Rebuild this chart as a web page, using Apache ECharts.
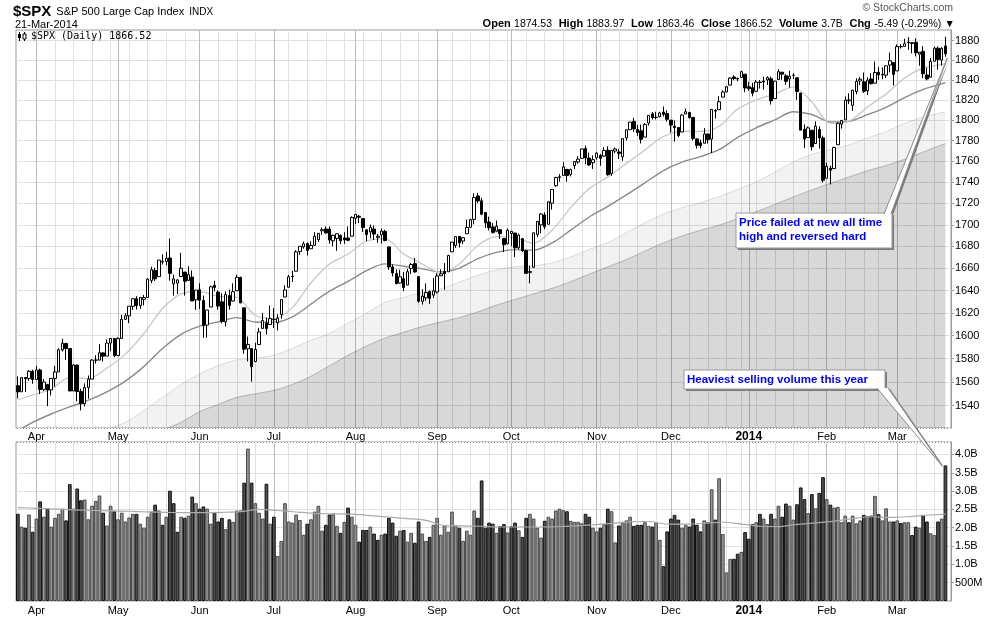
<!DOCTYPE html>
<html><head><meta charset="utf-8">
<script src="https://cdn.jsdelivr.net/npm/echarts@6/dist/echarts.min.js"></script>
<style>html,body{margin:0;padding:0;background:#fff}#c{width:1000px;height:618px}</style>
</head><body><div id="c"></div>
<script>
// ---- DATA ----
const holidays = ['2013-05-27','2013-07-04','2013-09-02','2013-11-28','2013-12-25','2014-01-01','2014-01-20','2014-02-17'];
const opens = [
1556.9,1551.7,1563.8,1562.9,1569.2,1562.2,1570.3,1553.7,1558.0,1553.3,
1563.1,1568.6,1587.7,1593.3,1588.8,1552.4,1574.6,1552.0,1541.6,1555.3,
1562.5,1578.8,1578.8,1585.0,1582.3,1593.6,1597.6,1582.8,1597.6,1614.4,
1617.5,1625.9,1632.7,1626.7,1632.1,1633.8,1649.1,1658.1,1652.5,1665.7,
1666.2,1669.4,1646.1,1646.7,1652.6,1656.6,1649.1,1652.1,1631.7,1640.7,
1631.1,1609.3,1625.3,1644.7,1638.6,1629.9,1612.2,1635.5,1630.6,1639.8,
1651.8,1624.6,1588.6,1588.8,1577.5,1592.3,1606.4,1611.1,1609.8,1614.3,
1611.5,1618.7,1634.2,1642.9,1652.9,1657.4,1675.3,1679.6,1682.7,1677.9,
1681.0,1686.2,1694.4,1696.1,1696.1,1685.2,1687.3,1690.3,1687.9,1687.8,
1689.4,1706.1,1708.0,1705.8,1695.3,1693.4,1696.1,1688.4,1690.7,1693.9,
1679.6,1661.2,1655.3,1646.8,1650.7,1645.0,1659.9,1664.3,1652.5,1630.3,
1633.5,1638.9,1635.9,1638.7,1653.3,1657.4,1656.9,1675.1,1681.0,1689.2,
1685.0,1691.7,1697.7,1705.0,1727.0,1722.4,1711.4,1702.6,1698.0,1694.1,
1695.5,1687.3,1682.4,1691.9,1692.4,1678.8,1687.2,1676.2,1657.0,1660.9,
1691.1,1699.9,1709.2,1700.5,1720.2,1736.7,1745.2,1746.5,1752.3,1747.5,
1756.0,1759.4,1762.9,1772.3,1763.2,1758.7,1763.4,1765.7,1765.0,1770.7,
1748.4,1769.9,1769.0,1764.4,1782.8,1790.7,1798.8,1790.8,1789.6,1783.5,
1797.2,1806.3,1802.9,1803.5,1808.0,1806.6,1800.1,1794.0,1792.8,1788.4,
1806.2,1807.6,1802.8,1781.7,1777.9,1777.5,1786.5,1781.5,1809.0,1810.4,
1822.9,1828.0,1834.9,1843.0,1841.5,1842.6,1845.9,1833.2,1832.3,1828.7,
1837.9,1839.0,1840.1,1841.3,1821.4,1840.5,1847.9,1844.2,1841.1,1844.7,
1842.3,1827.0,1791.0,1783.0,1790.2,1777.2,1790.9,1782.7,1743.8,1753.4,
1753.0,1776.0,1796.2,1800.4,1820.1,1814.8,1828.5,1839.0,1838.2,1829.2,
1841.1,1836.8,1847.7,1845.8,1844.9,1855.1,1857.7,1849.2,1874.1,1874.2,
1878.5,1877.9,1878.3,1866.2,1869.1,1845.1,1842.8,1858.9,1872.3,1860.1,
1874.5];
const highs = [
1564.9,1563.9,1564.1,1570.3,1570.6,1573.7,1571.5,1562.6,1558.0,1563.1,
1573.9,1589.1,1597.4,1593.3,1588.8,1575.4,1574.6,1554.4,1558.8,1565.6,
1579.6,1583.0,1592.6,1585.8,1596.7,1597.6,1597.6,1598.6,1618.5,1619.8,
1626.0,1632.8,1635.0,1633.7,1636.0,1651.1,1661.5,1660.5,1667.5,1672.8,
1674.9,1687.2,1654.4,1649.8,1674.2,1656.6,1661.9,1658.1,1640.4,1646.5,
1635.5,1622.6,1644.4,1648.7,1640.1,1637.7,1639.3,1640.8,1646.5,1654.2,
1652.5,1624.6,1599.2,1588.8,1593.8,1606.8,1620.1,1615.9,1626.6,1624.3,
1618.9,1632.1,1644.7,1654.2,1657.9,1676.6,1680.2,1684.5,1683.7,1684.8,
1693.1,1692.1,1697.6,1698.4,1698.4,1690.9,1691.9,1690.9,1693.2,1698.4,
1707.9,1709.7,1709.2,1705.8,1695.3,1700.2,1699.4,1691.5,1696.8,1695.5,
1679.6,1663.6,1659.2,1658.9,1656.9,1659.6,1664.9,1669.5,1652.5,1641.2,
1646.4,1640.1,1651.3,1655.7,1659.2,1664.8,1672.4,1684.1,1689.1,1689.2,
1688.7,1704.9,1705.5,1729.4,1729.9,1725.2,1711.4,1707.6,1701.7,1703.9,
1695.5,1687.3,1696.6,1693.9,1692.4,1691.9,1687.2,1676.8,1662.5,1692.6,
1703.4,1711.0,1711.6,1721.8,1733.4,1745.3,1747.8,1759.3,1752.3,1753.0,
1759.8,1764.9,1772.1,1775.2,1768.5,1765.7,1768.8,1767.0,1773.7,1774.5,
1770.8,1773.4,1771.8,1782.0,1791.0,1798.2,1802.3,1795.5,1795.7,1797.2,
1804.8,1808.1,1808.4,1808.3,1813.6,1810.0,1800.1,1799.8,1792.8,1806.0,
1811.5,1808.5,1803.0,1782.0,1780.9,1792.2,1786.8,1811.1,1810.9,1823.8,
1829.8,1833.9,1842.8,1844.9,1842.5,1849.4,1846.0,1838.2,1837.2,1840.1,
1840.0,1843.2,1843.8,1843.5,1839.3,1850.8,1847.9,1846.0,1849.3,1846.9,
1842.3,1827.0,1795.9,1793.9,1790.2,1798.8,1793.9,1784.8,1758.7,1755.8,
1774.1,1798.0,1799.9,1823.5,1826.6,1830.3,1841.7,1842.9,1847.5,1842.8,
1846.9,1858.7,1852.9,1852.7,1854.5,1867.9,1857.7,1876.2,1876.5,1881.9,
1883.6,1877.9,1882.4,1868.4,1874.4,1852.4,1862.3,1873.8,1874.1,1873.5,
1884.0];
const lows = [
1546.2,1551.7,1551.5,1561.1,1558.5,1562.2,1549.8,1552.5,1539.5,1548.6,
1556.0,1568.6,1586.2,1579.0,1552.3,1552.4,1543.7,1536.0,1539.3,1545.8,
1562.5,1575.8,1578.8,1577.6,1582.3,1586.5,1581.3,1582.8,1597.6,1614.2,
1611.0,1622.7,1623.1,1623.7,1626.7,1633.8,1646.7,1648.6,1652.5,1663.5,
1662.7,1648.9,1635.5,1636.9,1652.6,1635.5,1648.6,1630.7,1622.7,1623.6,
1598.2,1598.2,1625.3,1639.3,1622.9,1610.9,1608.1,1623.0,1630.3,1639.8,
1628.9,1584.3,1577.7,1560.3,1577.1,1592.3,1606.4,1601.1,1609.8,1606.8,
1604.6,1615.0,1634.2,1642.9,1647.7,1657.4,1672.3,1677.9,1671.8,1677.9,
1681.0,1684.1,1690.7,1692.1,1682.6,1680.2,1676.0,1681.9,1682.4,1684.9,
1689.4,1700.7,1701.6,1693.3,1684.9,1687.4,1686.0,1683.4,1682.6,1684.8,
1658.6,1652.6,1645.8,1646.1,1639.4,1645.0,1654.8,1656.0,1629.1,1627.5,
1630.9,1628.1,1633.4,1637.4,1653.1,1640.6,1656.9,1675.1,1678.7,1679.1,
1682.2,1691.7,1697.7,1700.4,1720.2,1708.9,1697.1,1694.9,1691.9,1693.1,
1687.1,1674.9,1682.1,1680.3,1670.4,1677.3,1674.9,1655.0,1646.5,1660.9,
1688.5,1692.1,1695.9,1700.5,1714.1,1735.7,1740.6,1746.5,1740.5,1745.5,
1752.5,1757.7,1762.9,1757.2,1755.7,1752.7,1761.6,1755.8,1764.4,1746.2,
1746.1,1767.9,1762.3,1760.6,1780.2,1790.7,1788.4,1784.7,1777.2,1783.5,
1794.7,1800.6,1800.8,1802.6,1803.6,1798.6,1787.9,1779.1,1783.4,1788.4,
1806.2,1801.4,1780.1,1772.3,1772.5,1777.5,1777.2,1768.0,1801.7,1810.4,
1822.9,1828.0,1834.9,1839.8,1838.8,1842.4,1827.7,1829.1,1823.7,1828.7,
1831.4,1830.4,1835.0,1815.5,1821.4,1840.5,1840.3,1835.2,1832.4,1840.9,
1820.1,1790.3,1772.9,1783.0,1770.5,1777.2,1772.3,1739.7,1743.8,1737.9,
1753.0,1776.0,1791.8,1800.4,1815.9,1809.2,1825.6,1835.0,1827.0,1824.9,
1835.6,1836.8,1840.2,1840.7,1842.0,1847.7,1834.4,1849.2,1871.9,1874.2,
1870.6,1867.0,1863.9,1854.4,1841.9,1839.6,1842.8,1858.9,1850.4,1854.6,
1863.5];
const closes = [
1551.7,1563.8,1562.9,1569.2,1562.2,1570.3,1553.7,1560.0,1553.3,1563.1,
1568.6,1587.7,1593.4,1588.9,1552.4,1574.6,1552.0,1541.6,1555.3,1562.5,
1578.8,1578.8,1585.2,1582.2,1593.6,1597.6,1582.7,1597.6,1614.4,1617.5,
1626.0,1632.7,1626.7,1633.7,1633.8,1650.3,1658.8,1650.5,1667.5,1666.3,
1669.2,1655.4,1650.5,1649.6,1660.1,1648.4,1654.4,1630.7,1640.4,1631.4,
1608.9,1622.6,1643.4,1642.8,1626.1,1612.5,1636.4,1626.7,1639.0,1651.8,
1628.9,1588.2,1592.4,1573.1,1588.0,1603.3,1613.2,1606.3,1615.0,1614.1,
1615.4,1631.9,1640.5,1652.3,1652.6,1675.0,1680.2,1682.5,1676.3,1680.9,
1689.4,1692.1,1695.5,1692.4,1685.9,1690.3,1691.7,1685.3,1686.0,1685.7,
1706.9,1709.7,1707.1,1697.4,1690.9,1697.5,1691.4,1689.5,1694.2,1685.4,
1661.3,1655.8,1646.1,1652.4,1642.8,1657.0,1663.5,1656.8,1630.5,1635.0,
1638.2,1633.0,1639.8,1653.1,1655.1,1655.2,1671.7,1684.0,1689.1,1683.4,
1688.0,1697.6,1704.8,1725.5,1722.3,1709.9,1701.8,1697.4,1692.8,1698.7,
1691.8,1681.6,1695.0,1693.9,1678.7,1690.5,1676.1,1655.5,1656.4,1692.6,
1703.2,1710.1,1698.1,1721.5,1733.2,1744.5,1744.7,1754.7,1746.4,1752.1,
1759.8,1762.1,1772.0,1763.3,1756.5,1761.6,1767.9,1763.0,1770.5,1747.2,
1770.6,1771.9,1767.7,1782.0,1790.6,1798.2,1791.5,1787.9,1781.4,1795.9,
1804.8,1802.5,1802.8,1807.2,1805.8,1800.9,1795.2,1792.8,1785.0,1805.1,
1808.4,1802.6,1782.2,1775.5,1775.3,1786.5,1781.0,1810.7,1809.6,1818.3,
1828.0,1833.3,1842.0,1841.4,1841.1,1848.4,1832.0,1831.4,1826.8,1837.9,
1837.5,1838.1,1842.4,1819.2,1838.9,1848.4,1845.9,1838.7,1843.8,1844.9,
1828.5,1790.3,1781.6,1792.5,1774.2,1794.2,1782.6,1741.9,1755.2,1751.6,
1773.4,1797.0,1799.8,1819.8,1819.3,1829.8,1838.6,1840.8,1828.8,1839.8,
1836.3,1847.6,1845.1,1845.2,1854.3,1859.5,1845.7,1873.9,1873.8,1877.0,
1878.0,1877.2,1867.6,1868.2,1846.3,1841.1,1858.8,1872.3,1860.8,1872.0,
1866.5];
// volume in billions of shares
const volumes = [
2.38,2.03,2.00,2.36,1.89,2.25,2.72,2.30,2.52,2.03,2.27,2.38,2.52,2.20,3.19,2.52,3.07,2.75,2.77,2.23,2.60,2.73,2.88,2.41,2.06,2.60,
2.45,2.23,2.41,2.17,2.28,2.38,2.38,2.11,2.00,2.30,2.44,2.63,2.47,2.08,2.30,3.01,2.67,1.89,2.30,2.27,2.33,2.85,
2.67,2.52,2.58,2.52,2.11,2.42,2.17,2.27,1.96,2.23,2.16,2.47,2.47,3.23,4.16,3.23,2.67,2.41,2.25,3.20,
2.11,2.30,1.23,1.64,2.67,2.17,2.14,2.36,2.21,1.81,2.11,2.23,2.44,2.60,1.92,2.08,2.36,2.38,2.05,1.86,2.16,2.55,
2.30,2.08,1.62,1.94,1.94,2.03,1.84,1.67,1.81,1.84,2.27,2.14,1.78,1.92,1.94,1.62,1.86,1.59,2.17,1.84,1.64,1.75,
2.08,2.27,1.81,2.06,1.89,2.44,2.06,2.00,1.64,1.92,1.81,2.47,2.27,3.29,2.00,2.14,2.11,1.86,2.04,2.10,
1.87,2.04,2.14,1.93,1.75,2.27,2.38,2.25,2.00,1.73,2.19,2.30,2.25,2.47,2.52,2.48,2.45,2.19,2.16,2.16,2.12,2.38,2.30,
2.00,1.90,2.00,2.10,2.52,2.45,1.60,2.06,2.15,2.20,2.30,2.05,2.08,2.08,2.15,2.05,2.03,2.15,1.67,0.95,
1.90,2.25,2.35,2.22,2.00,2.08,2.03,2.25,2.08,1.90,2.20,2.15,3.05,2.22,3.35,1.83,0.78,1.15,1.15,1.29,1.34,
1.88,1.70,2.10,2.15,2.38,2.25,2.10,2.38,2.25,2.60,2.30,2.66,2.60,2.22,2.64,3.10,2.78,2.40,2.92,2.53,2.95,
3.38,2.78,2.63,2.55,2.57,2.15,2.33,2.15,2.33,2.12,2.20,2.35,2.32,2.33,2.87,2.37,2.20,2.53,2.17,
2.17,2.20,2.13,2.15,2.15,1.80,2.03,2.00,2.35,2.17,1.85,1.80,2.17,2.25,3.70];
// overlays: [day index, value]
const ema20 = [[0,1545],[4,1549],[9,1554],[14,1564],[19,1563],[24,1572],[29,1584],[34,1602],[39,1624],[44,1637],[49,1639],[54,1635],[59,1634],[64,1618],[69,1615],[74,1625],[79,1647],[84,1664],[89,1673],[94,1685],[99,1687],[104,1673],[109,1664],[114,1656],[119,1664],[124,1681],[129,1689],[134,1688],[139,1683],[144,1695],[149,1716],[154,1734],[159,1745],[164,1758],[169,1771],[174,1784],[179,1789],[184,1789],[189,1794],[194,1811],[199,1820],[204,1826],[209,1833],[214,1818],[219,1797],[224,1799],[229,1813],[234,1826],[239,1842],[244,1852],[249,1855.5],[250,1856.5]];
const ema50 = [[0,1519],[4,1526],[9,1533],[14,1539],[19,1544.6],[24,1551.7],[29,1560.8],[34,1573.4],[39,1588.9],[44,1601.2],[49,1608.4],[54,1612.1],[59,1615.9],[64,1612.0],[69,1611.7],[74,1616.6],[79,1627.9],[84,1639.4],[89,1648.2],[94,1658.0],[99,1664.1],[104,1661.9],[109,1659.5],[114,1656.7],[119,1660.3],[124,1668.9],[129,1674.6],[134,1677.1],[139,1676.6],[144,1683.2],[149,1695.0],[154,1707.3],[159,1717.2],[164,1728.0],[169,1739.4],[174,1751.2],[179,1759.3],[184,1764.6],[189,1771.2],[194,1783.2],[199,1792.6],[204,1800.3],[209,1808.3],[214,1805.6],[219,1798.3],[224,1798.9],[229,1805.5],[234,1812.8],[239,1822.4],[244,1830.6],[249,1836.1],[250,1837.3]];
const ma100 = [[0,1478],[9,1490],[19,1508],[24,1520],[29,1526],[34,1536],[39,1547],[44,1558],[49,1567],[54,1574],[59,1579],[64,1580.5],[69,1583],[74,1589],[79,1596],[84,1602],[89,1611],[94,1620],[99,1629.4],[104,1633.9],[109,1638.3],[114,1641.6],[119,1647.5],[124,1653.7],[129,1658.6],[134,1661.5],[139,1662.3],[144,1665.1],[149,1670.5],[154,1677.2],[159,1683.6],[164,1692.7],[169,1701.8],[174,1710.1],[179,1715.9],[184,1720.8],[189,1726.5],[194,1733.2],[199,1740.4],[204,1749.6],[209,1759.4],[214,1766.8],[219,1771.3],[224,1776.0],[229,1782.7],[234,1789],[239,1797],[244,1803],[249,1807.5],[250,1808]];
const ma150 = [[0,1440],[20,1480],[39,1519],[44,1526],[49,1535],[54,1541],[59,1547],[64,1550],[69,1553],[74,1558],[79,1565],[84,1574],[89,1583],[94,1591],[99,1598],[104,1603],[109,1608],[114,1612],[119,1616],[124,1621],[129,1627],[134,1632],[139,1637],[144,1642],[149,1648.0],[154,1654.7],[159,1661.4],[164,1668.0],[169,1675.8],[174,1683.2],[179,1689.7],[184,1694.9],[189,1699.7],[194,1705.7],[199,1712.2],[204,1719.0],[209,1726.1],[214,1732.7],[219,1739],[224,1745],[229,1751],[234,1756],[239,1762],[244,1769],[249,1776],[250,1777]];
const volMA = [[0,2.55],[5,2.53],[10,2.51],[15,2.49],[20,2.47],[25,2.46],[30,2.45],[35,2.43],[40,2.42],[45,2.41],[50,2.41],[55,2.42],[60,2.44],[65,2.50],[70,2.47],[75,2.43],[80,2.39],[85,2.38],[90,2.37],[95,2.33],[100,2.29],[105,2.25],[110,2.20],[115,2.06],[120,2.05],[125,2.04],[130,2.02],[135,2.02],[140,2.02],[145,2.03],[150,2.05],[155,2.08],[160,2.12],[165,2.16],[170,2.17],[175,2.10],[180,2.10],[185,2.12],[190,2.15],[195,2.10],[200,2.04],[205,2.03],[210,2.09],[215,2.13],[220,2.18],[225,2.25],[230,2.30],[235,2.28],[240,2.30],[245,2.34],[250,2.37]];
const priceTicks = [1540,1560,1580,1600,1620,1640,1660,1680,1700,1720,1740,1760,1780,1800,1820,1840,1860,1880];
const volTicks = [0.5,1.0,1.5,2.0,2.5,3.0,3.5,4.0];
const monthNames = ['Jan','Feb','Mar','Apr','May','Jun','Jul','Aug','Sep','Oct','Nov','Dec'];

// ---- categories: trading days ----
const dates = [];
{
  let t = Date.UTC(2013,2,25); const end = Date.UTC(2014,2,21);
  while (t <= end) {
    const d = new Date(t); const wd = d.getUTCDay(); const s = d.toISOString().slice(0,10);
    if (wd !== 0 && wd !== 6 && holidays.indexOf(s) < 0) dates.push(s);
    t += 86400000;
  }
}
const dow = s => new Date(s + 'T00:00:00Z').getUTCDay();
const isMonthStart = dates.map((d,i) => i > 0 && d.slice(5,7) !== dates[i-1].slice(5,7));
const isWeekStart = dates.map((d,i) => i > 0 && dow(d) < dow(dates[i-1]));

const L = Math.log;
const FONT = '"Liberation Sans", Arial, sans-serif';
const last = closes.length - 1;

const xLabel = (margin) => ({
  show: true, margin: margin,
  interval: (i) => isMonthStart[i],
  formatter: (v) => { const m = +v.slice(5,7); return m === 1 ? '{b|' + v.slice(0,4) + '}' : monthNames[m-1]; },
  color: '#000', fontSize: 11, fontFamily: FONT,
  rich: { b: { fontWeight: 'bold', fontSize: 12, fontFamily: FONT, color: '#000' } }
});
const weekSplit = { show: true, interval: (i) => isWeekStart[i], alignWithLabel: true, lineStyle: { color: '#e0e0e0', width: 1 } };
const monthSplit = { show: true, interval: (i) => isMonthStart[i], alignWithLabel: true, lineStyle: { color: '#bcbcbc', width: 1 } };

const upStyle = { color: '#939393', borderColor: '#4a4a4a', borderWidth: 1 };
const dnStyle = { color: '#505050', borderColor: '#111', borderWidth: 1 };

const option = {
  animation: false,
  backgroundColor: '#fff',
  title: [
    { left: 13, top: 3, padding: 0, text: '{b|$SPX} {n|S&P 500 Large Cap Index} {s|INDX}',
      textStyle: { fontWeight: 'normal', rich: { b: { fontSize: 15, fontWeight: 'bold', fontFamily: FONT, color: '#000' },
                           n: { fontSize: 11, fontWeight: 'normal', fontFamily: FONT, color: '#000' },
                           s: { fontSize: 10, fontWeight: 'normal', fontFamily: FONT, color: '#000' } } } },
    { left: 15, top: 19, padding: 0, text: '21-Mar-2014', textStyle: { fontSize: 11, fontWeight: 'normal', fontFamily: FONT, color: '#000' } },
    { right: 47, top: 3, padding: 0, text: '© StockCharts.com', textStyle: { fontSize: 10.5, fontWeight: 'normal', fontFamily: FONT, color: '#555' } },
    { right: 45, top: 18, padding: 0,
      text: '{b|Open} {v|1874.53}  {b|High} {v|1883.97}  {b|Low} {v|1863.46}  {b|Close} {v|1866.52}  {b|Volume} {v|3.7B}  {b|Chg} {v|-5.49 (-0.29%)} {v|▼}',
      textStyle: { fontWeight: 'normal', fontSize: 12, fontFamily: FONT, rich: { b: { fontSize: 11, fontWeight: 'bold', fontFamily: FONT, color: '#000' },
                           v: { fontSize: 10.5, fontWeight: 'normal', fontFamily: FONT, color: '#000' } } } },
    { left: 31, top: 31, padding: 0, text: '$SPX (Daily) 1866.52', textStyle: { fontSize: 10, fontWeight: 'normal', fontFamily: '"DejaVu Sans Mono", monospace', color: '#000' } }
  ],
  grid: [
    { left: 16, right: 49, top: 30, height: 398, show: true, borderColor: '#9a9a9a', borderWidth: 1, backgroundColor: '#fff' },
    { left: 16, right: 49, top: 442, height: 159, show: true, borderColor: '#9a9a9a', borderWidth: 1, backgroundColor: '#fff' }
  ],
  xAxis: [
    { type: 'category', gridIndex: 0, data: dates, boundaryGap: true, axisLine: { show: false }, axisTick: { show: false }, axisLabel: xLabel(3), splitLine: weekSplit },
    { type: 'category', gridIndex: 0, data: dates, boundaryGap: true, position: 'top', axisLine: { show: false }, axisTick: { show: false }, axisLabel: { show: false }, splitLine: monthSplit },
    { type: 'category', gridIndex: 1, data: dates, boundaryGap: true, axisLine: { show: false }, axisTick: { show: false }, axisLabel: xLabel(4), splitLine: weekSplit },
    { type: 'category', gridIndex: 1, data: dates, boundaryGap: true, position: 'top', axisLine: { show: false }, axisTick: { show: false }, axisLabel: { show: false }, splitLine: monthSplit }
  ],
  yAxis: [
    { type: 'value', gridIndex: 0, position: 'right', min: L(1521.3), max: L(1891),
      axisLine: { show: true, lineStyle: { color: '#9a9a9a' } },
      axisTick: { show: true, length: 3, customValues: priceTicks.map(L), lineStyle: { color: '#9a9a9a' } },
      axisLabel: { customValues: priceTicks.map(L), formatter: (v) => String(Math.round(Math.exp(v))), color: '#000', fontSize: 11, fontFamily: FONT, margin: 4 },
      splitLine: { show: true, lineStyle: { color: '#e0e0e0' } } },
    { type: 'value', gridIndex: 1, position: 'right', min: 0, max: 4.34,
      axisLine: { show: true, lineStyle: { color: '#9a9a9a' } },
      axisTick: { show: true, length: 3, customValues: volTicks, lineStyle: { color: '#9a9a9a' } },
      axisLabel: { customValues: volTicks, formatter: (v) => v < 1 ? Math.round(v * 1000) + 'M' : v.toFixed(1) + 'B', color: '#000', fontSize: 11, fontFamily: FONT, margin: 4 },
      splitLine: { show: true, lineStyle: { color: '#e0e0e0' } } }
  ],
  series: [
    { type: 'line', xAxisIndex: 0, yAxisIndex: 0, data: ma100.map(p => [p[0], L(p[1])]), showSymbol: false, smooth: 0.3, silent: true, z: 1,
      lineStyle: { color: 'rgba(0,0,0,0.12)', width: 1 }, areaStyle: { color: 'rgba(0,0,0,0.075)', origin: 'start' } },
    { type: 'line', xAxisIndex: 0, yAxisIndex: 0, data: ma150.map(p => [p[0], L(p[1])]), showSymbol: false, smooth: 0.3, silent: true, z: 1,
      lineStyle: { color: 'rgba(0,0,0,0.22)', width: 1 }, areaStyle: { color: 'rgba(0,0,0,0.153)', origin: 'start' } },
    { type: 'line', xAxisIndex: 0, yAxisIndex: 0, data: ema50.map(p => [p[0], L(p[1])]), showSymbol: false, smooth: 0.3, silent: true, z: 2,
      lineStyle: { color: '#8a8a8a', width: 1.4 } },
    { type: 'line', xAxisIndex: 0, yAxisIndex: 0, data: ema20.map(p => [p[0], L(p[1])]), showSymbol: false, smooth: 0.3, silent: true, z: 2,
      lineStyle: { color: '#c4c4c4', width: 1.2 } },
    { type: 'candlestick', xAxisIndex: 0, yAxisIndex: 0, barWidth: 3, z: 5,
      data: closes.map((c, i) => [L(opens[i]), L(c), L(lows[i]), L(highs[i])]),
      itemStyle: { color: '#fff', color0: '#000', borderColor: '#000', borderColor0: '#000', borderWidth: 1 } },
    { type: 'bar', xAxisIndex: 2, yAxisIndex: 1, barCategoryGap: '0%', z: 3,
      data: volumes.map((v, i) => ({ value: v, itemStyle: (i === 0 ? closes[i] < opens[i] : closes[i] < closes[i-1]) ? dnStyle : upStyle })) },
    { type: 'line', xAxisIndex: 2, yAxisIndex: 1, data: volMA, showSymbol: false, smooth: 0.3, silent: true, z: 4,
      lineStyle: { color: '#aaaaaa', width: 1.2 } }
  ]
};

const chart = echarts.init(document.getElementById('c'));
chart.setOption(option);

const tip1 = chart.convertToPixel({ xAxisIndex: 0, yAxisIndex: 0 }, [last, L(lows[last])]);
const tip2 = chart.convertToPixel({ xAxisIndex: 2, yAxisIndex: 1 }, [last, volumes[last]]);
const t1 = [tip1[0] + 2, tip1[1] + 1];
const t2 = [tip2[0] - 3, tip2[1] + 1];

const box1 = { x: 736, y: 213, w: 156, h: 35 };
const box2 = { x: 684, y: 370, w: 201, h: 19 };
const boxFont = 'bold 11.5px "Liberation Sans", Arial, sans-serif';

function callout(box, baseA, baseB, tip, text) {
  return [
    { type: 'polygon', z: 90, silent: true, shape: { points: [[baseA[0] + 2, baseA[1] + 1], [baseB[0] + 2, baseB[1] + 1], [tip[0] + 2, tip[1] + 1]] }, style: { fill: '#7a7a7a' } },
    { type: 'rect', z: 91, silent: true, shape: { x: box.x + 2, y: box.y + 2, width: box.w, height: box.h }, style: { fill: '#7a7a7a' } },
    { type: 'rect', z: 92, silent: true, shape: { x: box.x, y: box.y, width: box.w, height: box.h }, style: { fill: '#fff', stroke: '#9a9a9a', lineWidth: 1 } },
    { type: 'polygon', z: 93, silent: true, shape: { points: [baseA, baseB, tip] }, style: { fill: '#fff' } },
    { type: 'polyline', z: 94, silent: true, shape: { points: [baseA, tip, baseB] }, style: { stroke: '#8a8a8a', lineWidth: 1, fill: null } },
    { type: 'text', z: 95, silent: true, x: box.x + 3, y: box.y + 3, style: { text: text, fill: '#0000ff', font: boxFont, lineHeight: 14, textVerticalAlign: 'top', verticalAlign: 'top' } }
  ];
}

// dotted borders between the two panels
const panelSep = [
  { type: 'line', z: 80, silent: true, shape: { x1: 17, y1: 428.5, x2: 950, y2: 428.5 }, style: { stroke: '#fff', lineWidth: 1 } },
  { type: 'line', z: 81, silent: true, shape: { x1: 17, y1: 428.5, x2: 950, y2: 428.5 }, style: { stroke: '#8a8a8a', lineWidth: 1, lineDash: [1, 2] } },
  { type: 'line', z: 80, silent: true, shape: { x1: 17, y1: 442.5, x2: 950, y2: 442.5 }, style: { stroke: '#fff', lineWidth: 1 } },
  { type: 'line', z: 81, silent: true, shape: { x1: 17, y1: 442.5, x2: 950, y2: 442.5 }, style: { stroke: '#8a8a8a', lineWidth: 1, lineDash: [1, 2] } }
];

chart.setOption({
  graphic: [].concat(
    panelSep,
    callout(box1, [884, box1.y + 1], [891, box1.y + 1], t1, 'Price failed at new all time\nhigh and reversed hard'),
    callout(box2, [877, box2.y + box2.h - 1], [888, box2.y + box2.h - 1], t2, 'Heaviest selling volume this year'),
    [
      { type: 'line', z: 96, silent: true, shape: { x1: 19.5, y1: 32, x2: 19.5, y2: 41 }, style: { stroke: '#000', lineWidth: 1 } },
      { type: 'rect', z: 97, silent: true, shape: { x: 18, y: 34, width: 3, height: 4 }, style: { fill: '#000' } },
      { type: 'line', z: 96, silent: true, shape: { x1: 24.5, y1: 32, x2: 24.5, y2: 41 }, style: { stroke: '#000', lineWidth: 1 } },
      { type: 'rect', z: 97, silent: true, shape: { x: 23, y: 34, width: 3, height: 5 }, style: { fill: '#fff', stroke: '#000', lineWidth: 1 } }
    ]
  )
});
</script>
</body></html>
